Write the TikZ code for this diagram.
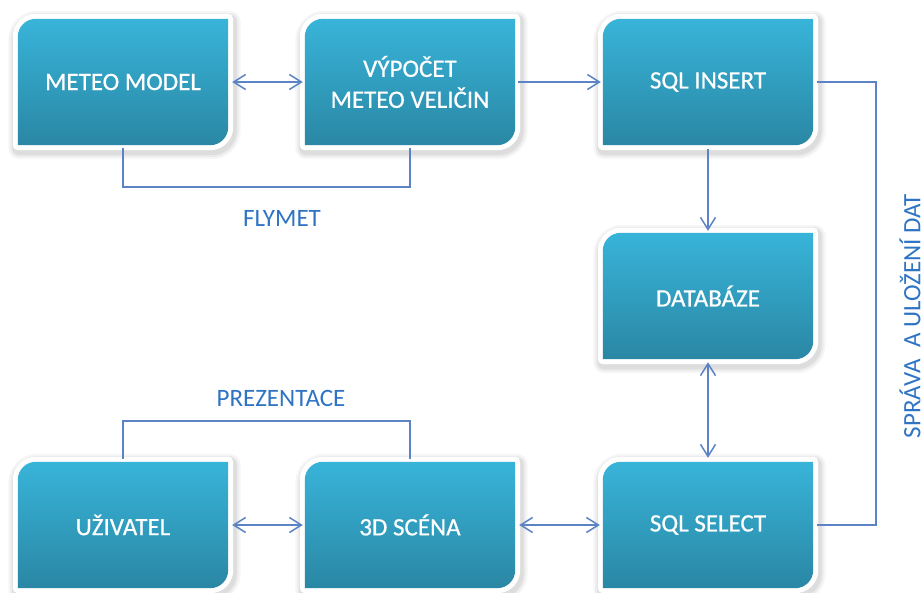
\documentclass[tikz,border=0pt]{standalone}
\usepackage{fontspec}
\setmainfont{Carlito}
\newfontfamily\boxfont{Carlito}[FakeBold=0.6]
\usetikzlibrary{arrows.meta,backgrounds}

\definecolor{boxtop}{HTML}{38B4D9}
\definecolor{boxbot}{HTML}{2A87A4}
\definecolor{linkblue}{HTML}{5B83C6}
\definecolor{labelblue}{HTML}{2F74C4}

\tikzset{
  block/.style={minimum width=210pt, minimum height=126pt, inner sep=0pt,
    text=white, align=center, font=\boxfont\fontsize{25}{31}\selectfont},
  caption/.style={text=labelblue, inner sep=0pt, font=\fontsize{25}{30}\selectfont},
  link/.style={draw=linkblue, line width=1.5pt},
  tip/.style={-{Straight Barb[length=12pt,width=15pt,line width=1.5pt]}},
  twotip/.style={{Straight Barb[length=12pt,width=15pt,line width=1.5pt]}-{Straight Barb[length=12pt,width=15pt,line width=1.5pt]}},
}

\begin{document}
\begin{tikzpicture}[x=1pt,y=-1pt]
\useasboundingbox (0,0) rectangle (924,592);

% process blocks
\node[block] (mm) at (123,82)  {METEO MODEL};
\node[block] (vy) at (410,82)  {VÝPOČET\\METEO VELIČIN};
\node[block] (si) at (708,82)  {SQL INSERT};
\node[block] (db) at (708,296) {DATABÁZE};
\node[block] (uz) at (123,525) {UŽIVATEL};
\node[block] (sc) at (410,525) {3D SCÉNA};
\node[block] (ss) at (708,525) {SQL SELECT};

% page, then block bodies: soft shadow, white frame, shaded face
\begin{scope}[on background layer]
\fill[white] (0,0) rectangle (924,592);
\foreach \n in {mm,vy,si,db,uz,sc,ss}{
  \foreach \w/\o in {22/0.035,18/0.045,14/0.06}{
    \filldraw[black, opacity=\o, line width=\w pt, line join=round,
      transform canvas={shift={(1.5pt,-3pt)}}]
      (\n.north east) -- ([yshift=18pt]\n.south east)
      arc[start angle=0,end angle=-90,radius=18pt] -- (\n.south west)
      -- ([yshift=-18pt]\n.north west)
      arc[start angle=180,end angle=90,radius=18pt] -- cycle;
  }
  \filldraw[white, line width=10pt, line join=round]
    (\n.north east) -- ([yshift=18pt]\n.south east)
    arc[start angle=0,end angle=-90,radius=18pt] -- (\n.south west)
    -- ([yshift=-18pt]\n.north west)
    arc[start angle=180,end angle=90,radius=18pt] -- cycle;
  \shade[top color=boxtop, bottom color=boxbot]
    (\n.north east) -- ([yshift=18pt]\n.south east)
    arc[start angle=0,end angle=-90,radius=18pt] -- (\n.south west)
    -- ([yshift=-18pt]\n.north west)
    arc[start angle=180,end angle=90,radius=18pt] -- cycle;
}
\end{scope}

% data flow
\draw[link, twotip, shorten <=4pt, shorten >=2pt] (mm.east) -- (vy.west);
\draw[link, tip, shorten <=3pt, shorten >=2pt] (vy.east) -- (si.west);
\draw[link, tip, shorten <=4pt, shorten >=2pt] (si.south) -- (db.north);
\draw[link, twotip, shorten <=3pt, shorten >=4pt] (db.south) -- (ss.north);
\draw[link, twotip, shorten <=4pt, shorten >=2pt] (uz.east) -- (sc.west);
\draw[link, twotip, shorten <=4pt, shorten >=3pt] (sc.east) -- (ss.west);

% grouping brackets
\draw[link, shorten <=3pt, shorten >=3pt] (mm.south) -- ++(0,42) -| (vy.south);
\draw[link, shorten <=3pt, shorten >=3pt] (uz.north) -- ++(0,-41) -| (sc.north);
\draw[link, shorten <=4pt, shorten >=4pt] (si.east) -- ++(63,0) |- (ss.east);

% group captions
\node[caption] (flymet) at (282,218) {FLYMET};
\node[caption] (prez) at (281,398) {PREZENTACE};
\node[caption, rotate=90] (sprava) at (910,316) {SPRÁVA\hspace{0.45em}A ULOŽENÍ DAT};
\end{tikzpicture}
\end{document}
